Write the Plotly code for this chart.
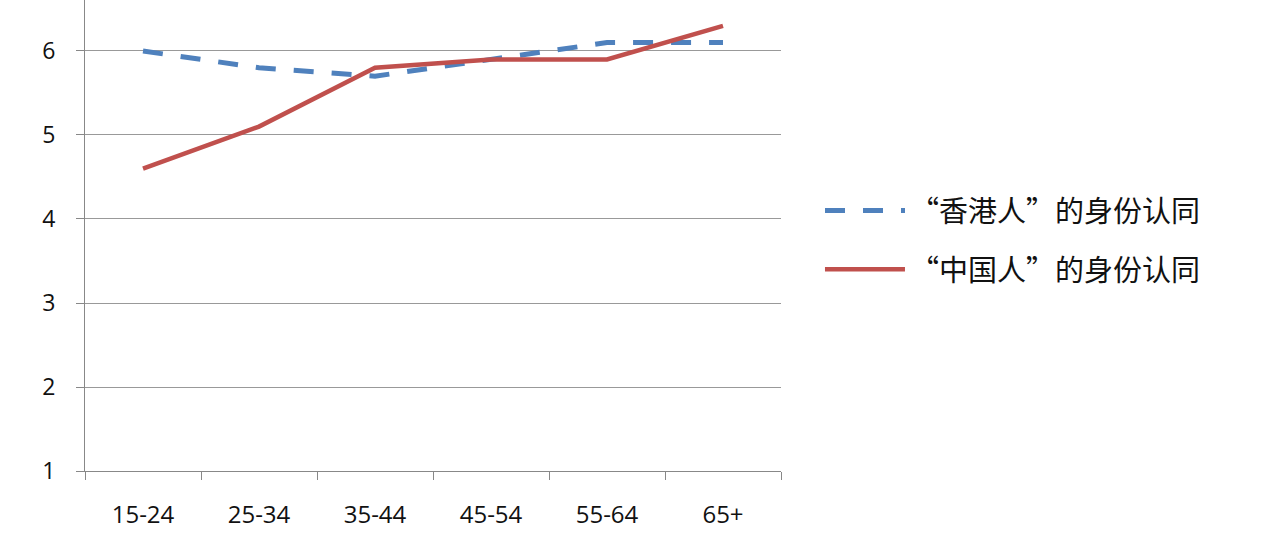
import plotly.graph_objects as go

categories = ["15-24", "25-34", "35-44", "45-54", "55-64", "65+"]
hk_identity = [6.0, 5.8, 5.7, 5.9, 6.1, 6.1]
cn_identity = [4.6, 5.1, 5.8, 5.9, 5.9, 6.3]
series_names = ["“香港人”的身份认同", "“中国人”的身份认同"]
y_ticks = [1, 2, 3, 4, 5, 6]

fig = go.Figure()
fig.add_trace(go.Scatter(
    x=categories, y=hk_identity, mode="lines", name=series_names[0],
    legendgroup="hk",
    line=dict(color="#4F81BD", width=5, dash="20px,18px"),
))
fig.add_trace(go.Scatter(
    x=categories, y=cn_identity, mode="lines", name=series_names[1],
    legendgroup="cn",
    line=dict(color="#C0504D", width=4.5),
))

fig.update_layout(
    width=1280, height=544,
    margin=dict(l=85, r=499, t=0, b=73),
    paper_bgcolor="white", plot_bgcolor="white",
    font=dict(family="Open Sans, Noto Sans CJK SC", size=23, color="#111111"),
    legend=dict(
        x=1.056, y=0.49, xanchor="left", yanchor="middle",
        font=dict(family="Noto Sans CJK SC", size=29, color="#111111"),
        itemwidth=80, tracegroupgap=18, traceorder="grouped",
    ),
    showlegend=True,
)
fig.update_xaxes(
    type="category", tickson="boundaries", ticks="outside", ticklen=8,
    tickcolor="#888888", showgrid=False, showline=True, linecolor="#888888",
    linewidth=1, range=[-0.5, 5.5], ticklabelstandoff=22,
    tickfont=dict(family="Open Sans", size=24, color="#111111"),
)
fig.update_yaxes(
    range=[1, 6.607], tickvals=y_ticks, ticks="outside", ticklen=8,
    tickcolor="#888888", showgrid=True, gridcolor="#999999", gridwidth=1,
    showline=True, linecolor="#888888", linewidth=1, zeroline=False,
    ticklabelstandoff=16,
    tickfont=dict(family="Open Sans", size=23, color="#111111"),
)

fig.write_html("out.html", config={"displayModeBar": False},
               post_script="document.body.style.margin='0';")
